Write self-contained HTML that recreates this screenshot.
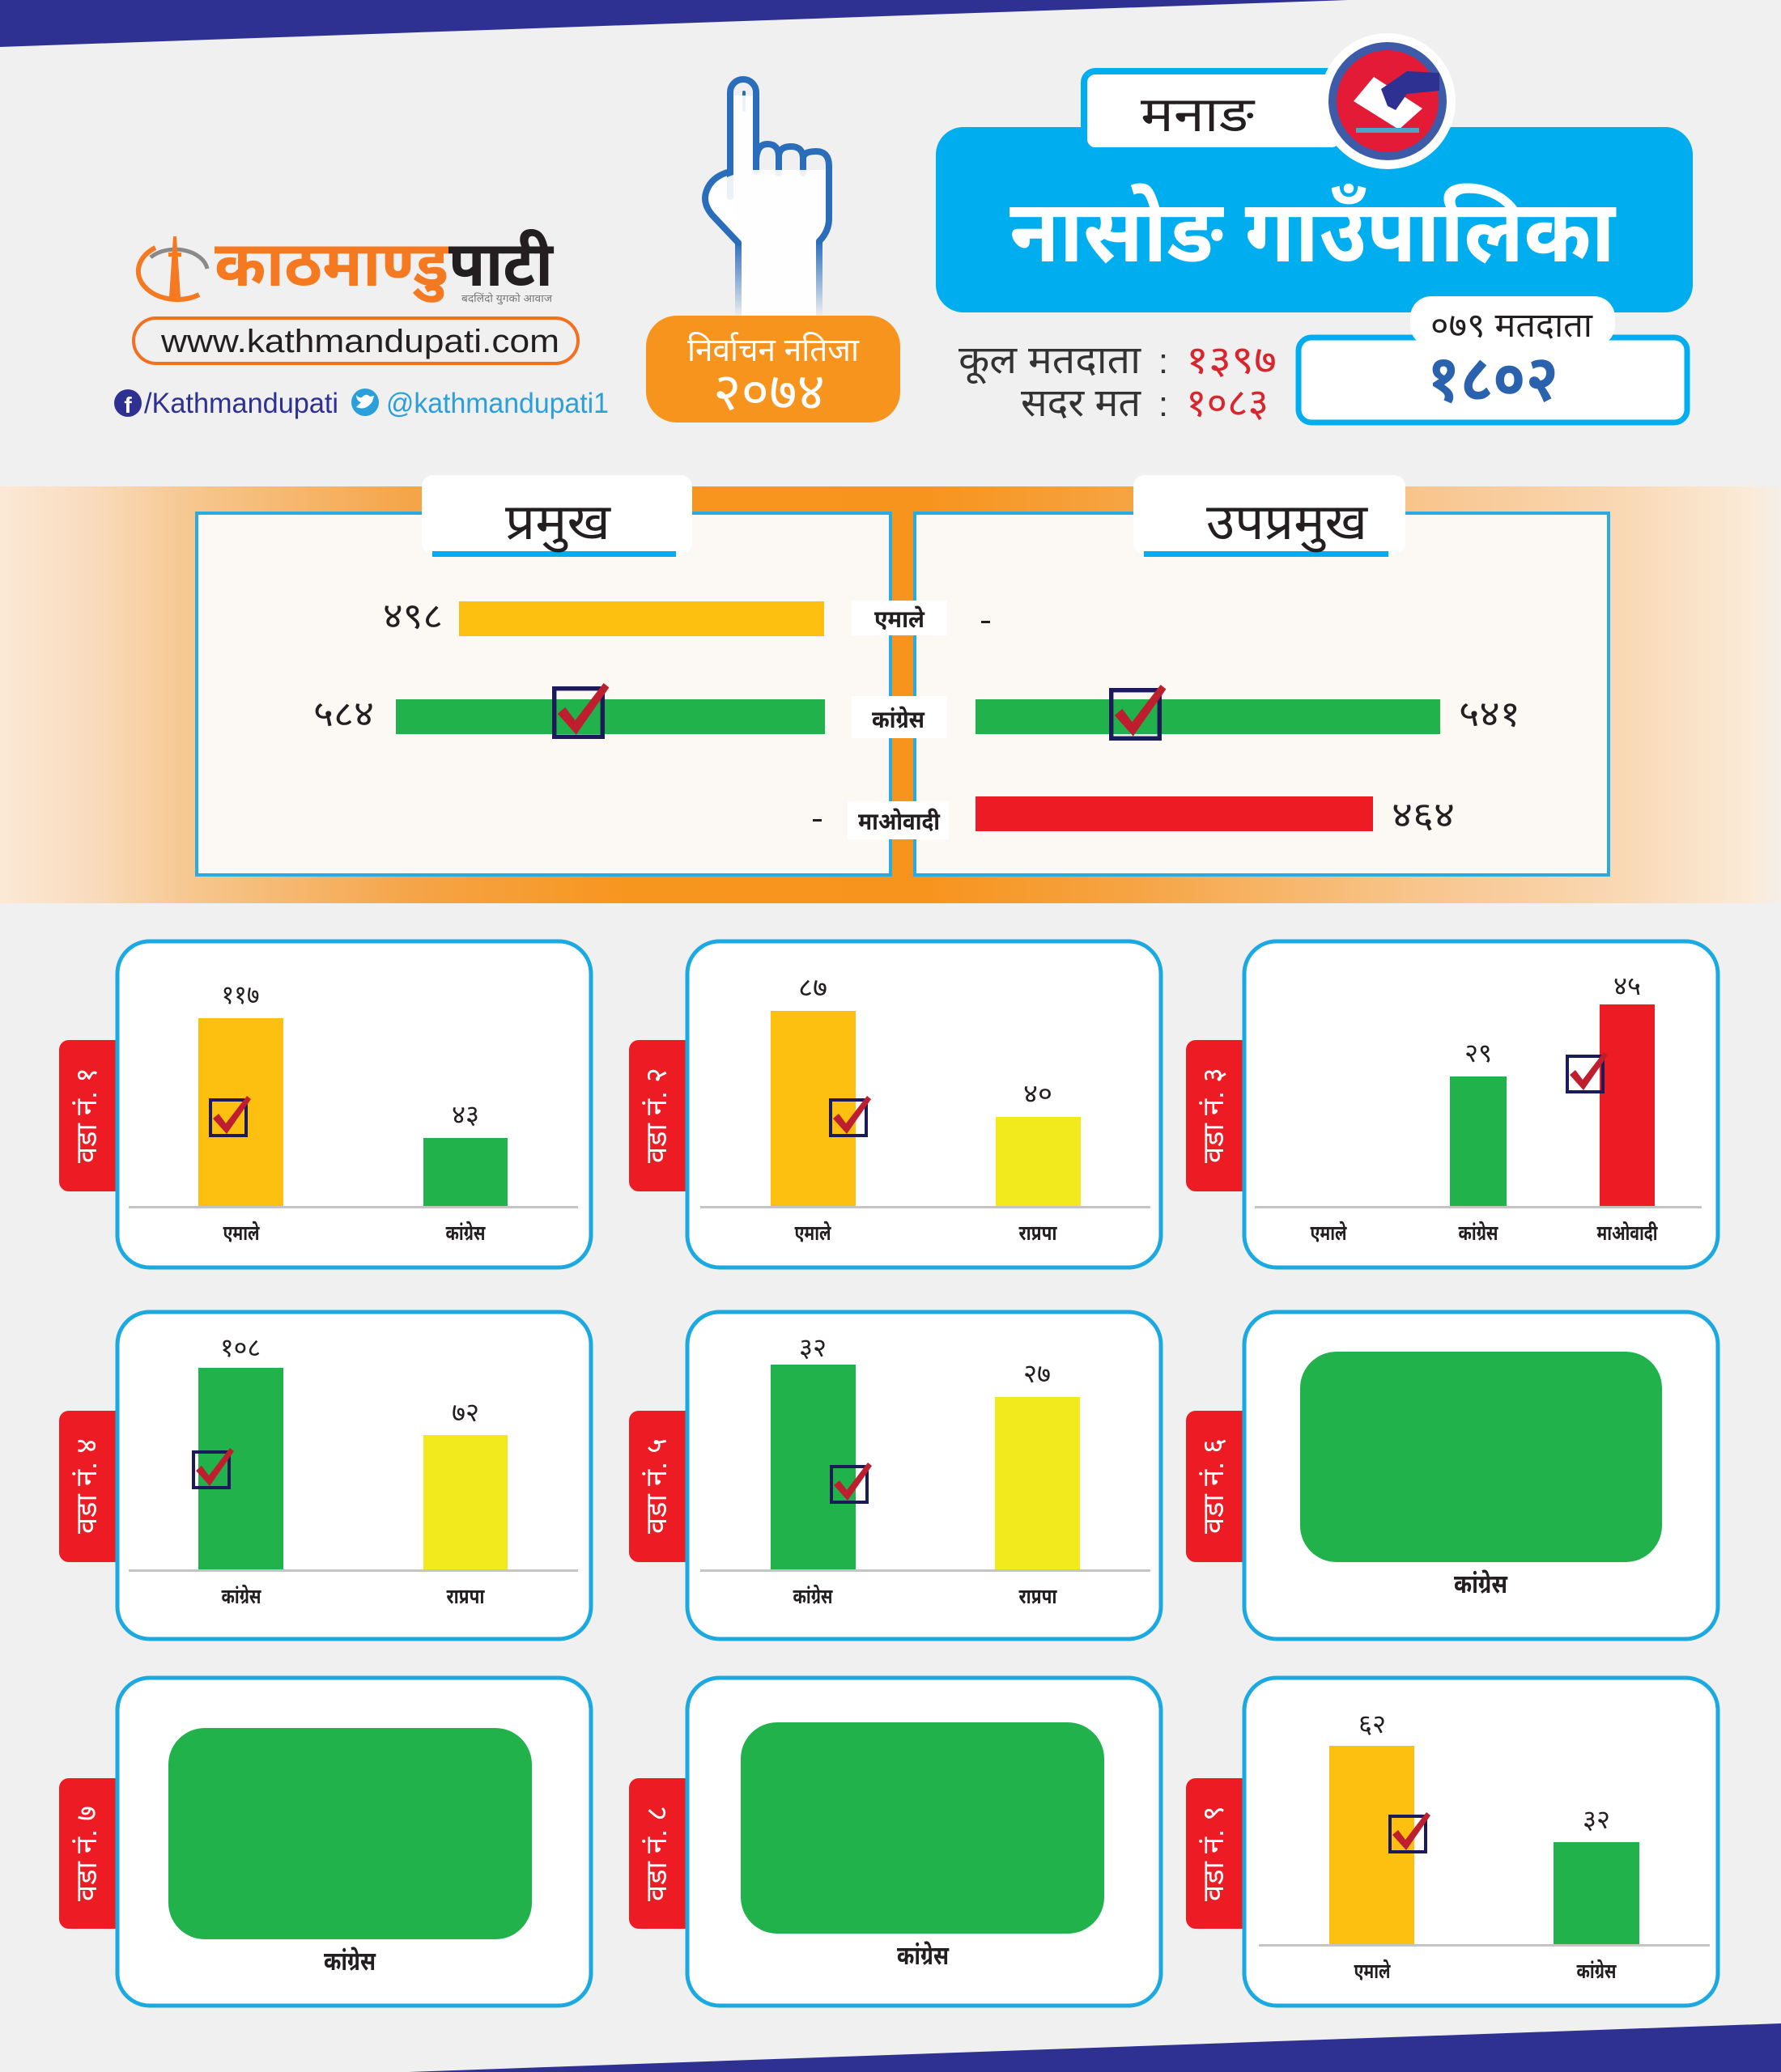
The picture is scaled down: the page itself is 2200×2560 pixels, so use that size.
<!DOCTYPE html>
<html><head><meta charset="utf-8"><style>
html,body{margin:0;padding:0;background:#f0f0f0;}
svg{display:block;}
.d{font-family:"Liberation Sans","Noto Sans Devanagari","Lohit Devanagari","Mangal","Noto Sans CJK SC",sans-serif;}
.l{font-family:"Liberation Sans",sans-serif;}
</style></head><body>
<svg width="2200" height="2560" viewBox="0 0 2200 2560" xmlns="http://www.w3.org/2000/svg">
<defs>
<linearGradient id="band" x1="0" y1="0" x2="2200" y2="0" gradientUnits="userSpaceOnUse">
<stop offset="0" stop-color="#fbe8d5"/><stop offset="0.05" stop-color="#f9dcbf"/><stop offset="0.11" stop-color="#f6c68d"/>
<stop offset="0.233" stop-color="#f5a447"/><stop offset="0.35" stop-color="#f7961f"/><stop offset="0.52" stop-color="#f7941d"/>
<stop offset="0.635" stop-color="#f6a443"/><stop offset="0.79" stop-color="#f8c48a"/><stop offset="0.91" stop-color="#f9d8b4"/>
<stop offset="0.985" stop-color="#fbebd9"/><stop offset="1" stop-color="#f4efe9"/>
</linearGradient>
<linearGradient id="wrist" x1="0" y1="298" x2="0" y2="392" gradientUnits="userSpaceOnUse">
<stop offset="0" stop-color="#2a6ebb"/><stop offset="1" stop-color="#2a6ebb" stop-opacity="0"/>
</linearGradient>
<g id="ck">
<rect x="2" y="2" width="44" height="44" fill="none" stroke="#1b1b5a" stroke-width="4"/>
<path d="M5,25 L12,19 L21,31 L47,-3 L52,1 L22,44 Z" fill="#be1e2d"/>
</g>
</defs>

<!-- background -->
<rect x="0" y="0" width="2200" height="2560" fill="#f0f0f0"/>
<polygon points="0,0 1665,0 0,58" fill="#2e3192"/>
<polygon points="505,2560 2200,2500 2200,2560" fill="#2e3192"/>

<!-- logo -->
<g>
<path d="M186 318 A40 28 0 0 1 256 332" fill="none" stroke="#8a8a8a" stroke-width="5"/>
<path d="M192 306 A44 32 0 0 0 246 364" fill="none" stroke="#f47920" stroke-width="6"/>
<polygon points="214,292 218,292 223,367 209,367" fill="#f47920"/>
<rect x="208" y="312" width="16" height="5" fill="#f47920"/>
</g>
<text class="d" x="265" y="353" font-size="78" font-weight="bold" fill="#f47920" textLength="289" lengthAdjust="spacingAndGlyphs">काठमाण्डु</text>
<text class="d" x="554" y="353" font-size="78" font-weight="bold" fill="#231f20" textLength="129" lengthAdjust="spacingAndGlyphs">पाटी</text>
<text class="d" x="570" y="373" font-size="13" fill="#777" textLength="112" lengthAdjust="spacingAndGlyphs">बदलिंदो युगको आवाज</text>

<rect x="165" y="393" width="549" height="56" rx="28" fill="none" stroke="#f37021" stroke-width="4"/>
<text class="l" x="199" y="435" font-size="40" fill="#231f20" textLength="492" lengthAdjust="spacingAndGlyphs">www.kathmandupati.com</text>

<circle cx="158" cy="498" r="17" fill="#2e3192"/>
<text class="l" x="158" y="510" font-size="28" font-weight="bold" fill="#fff" text-anchor="middle">f</text>
<text class="l" x="178" y="510" font-size="35" fill="#2e3192" textLength="240" lengthAdjust="spacingAndGlyphs">/Kathmandupati</text>
<circle cx="451" cy="497" r="17" fill="#2b9fd9"/>
<path d="M440 503 Q452 508 460 496 L462 489 L457 490 Q452 485 447 491 Q443 492 440 488 Q440 495 446 497 Q443 500 440 503 Z" fill="#fff"/>
<text class="l" x="477" y="510" font-size="35" fill="#2b9fd9" textLength="275" lengthAdjust="spacingAndGlyphs">@kathmandupati1</text>

<!-- hand -->
<g fill="none" stroke="#2a6ebb" stroke-width="8" stroke-linecap="round" stroke-linejoin="round">
<path d="M912 300 L880 266 Q868 252 872 238 Q878 218 902 212" fill="#fff"/>
<path d="M902 243 L902 114 A16 16 0 0 1 934 114 L934 200 Q934 178 948 178 Q962 178 962 194 Q962 181 977 181 Q992 181 992 196 Q992 187 1008 187 Q1024 187 1024 205 L1024 270 Q1024 286 1012 298"/>
<path d="M934 196 L934 212 M962 194 L962 214 M992 196 L992 214"/>
<path d="M919 114 L919 136" stroke-width="4"/>
</g>
<path d="M906 118 L930 118 L930 210 L1020 210 L1020 270 Q1020 284 1008 296 L1008 392 L916 392 L916 298 L884 264 Q874 252 877 240 Q882 224 906 216 Z" fill="#fff" opacity="0.9"/>
<path d="M912 300 L912 392 M1012 298 L1012 392" stroke="url(#wrist)" stroke-width="8" fill="none"/>

<!-- orange box -->
<rect x="798" y="390" width="314" height="132" rx="38" fill="#f7941d"/>
<text class="d" x="955" y="446" font-size="40" fill="#fff" text-anchor="middle" textLength="212" lengthAdjust="spacingAndGlyphs">निर्वाचन नतिजा</text>
<text class="d" x="950" y="506" font-size="64" fill="#fff" text-anchor="middle" textLength="138" lengthAdjust="spacingAndGlyphs">२०७४</text>

<!-- title block -->
<rect x="1156" y="157" width="935" height="229" rx="34" fill="#00aeef"/>
<rect x="1339" y="88" width="320" height="98" rx="14" fill="#fff" stroke="#00aeef" stroke-width="8"/>
<text class="d" x="1479" y="162" font-size="60" fill="#231f20" text-anchor="middle" textLength="140" lengthAdjust="spacingAndGlyphs">मनाङ</text>
<circle cx="1714" cy="125" r="84" fill="#fff"/>
<circle cx="1714" cy="125" r="73" fill="#3d5ba9"/>
<circle cx="1714" cy="125" r="63" fill="#e31b37"/>
<polygon points="1672,125 1697,95 1757,134 1728,160" fill="#fff"/>
<polygon points="1706,110 1738,88 1778,90 1778,112 1738,116 1724,136 1714,131" fill="#2e3192"/>
<rect x="1675" y="158" width="78" height="6" fill="#4fa3c7"/>
<text class="d" x="1247" y="323" font-size="108" font-weight="bold" fill="#fff" textLength="748" lengthAdjust="spacingAndGlyphs">नासोङ गाउँपालिका</text>

<!-- voter counts -->
<text class="d" x="1184" y="461" font-size="48" fill="#333" textLength="225" lengthAdjust="spacingAndGlyphs">कूल मतदाता</text>
<text class="l" x="1437" y="461" font-size="44" fill="#333" text-anchor="middle">:</text>
<text class="d" x="1465" y="461" font-size="48" fill="#d7262e" textLength="112" lengthAdjust="spacingAndGlyphs">१३९७</text>
<text class="d" x="1261" y="514" font-size="48" fill="#333" textLength="148" lengthAdjust="spacingAndGlyphs">सदर मत</text>
<text class="l" x="1437" y="514" font-size="44" fill="#333" text-anchor="middle">:</text>
<text class="d" x="1465" y="514" font-size="48" fill="#d7262e" textLength="102" lengthAdjust="spacingAndGlyphs">१०८३</text>

<rect x="1604" y="417" width="480" height="105" rx="16" fill="#fff" stroke="#00aeef" stroke-width="7"/>
<rect x="1742" y="366" width="253" height="62" rx="26" fill="#fff"/>
<text class="d" x="1767" y="416" font-size="42" fill="#231f20" textLength="200" lengthAdjust="spacingAndGlyphs">०७९ मतदाता</text>
<text class="d" x="1763" y="495" font-size="80" font-weight="bold" fill="#2b62ad" textLength="162" lengthAdjust="spacingAndGlyphs">१८०२</text>

<!-- orange band -->
<rect x="0" y="601" width="2200" height="515" fill="url(#band)"/>
<rect x="243" y="634" width="857" height="447" fill="#fcf8f3" stroke="#29abe2" stroke-width="4"/>
<rect x="1130" y="634" width="857" height="447" fill="#fcf8f3" stroke="#29abe2" stroke-width="4"/>
<rect x="1102" y="601" width="26" height="515" fill="#f7941d"/>
<rect x="243" y="1079" width="857" height="4" fill="#29abe2"/>
<rect x="1130" y="1079" width="857" height="4" fill="#29abe2"/>

<rect x="521" y="587" width="334" height="98" rx="14" fill="#fff"/>
<rect x="534" y="681" width="301" height="7" fill="#00aeef"/>
<text class="d" x="624" y="666" font-size="62" fill="#231f20" textLength="130" lengthAdjust="spacingAndGlyphs">प्रमुख</text>
<rect x="1400" y="587" width="336" height="98" rx="14" fill="#fff"/>
<rect x="1413" y="681" width="302" height="7" fill="#00aeef"/>
<text class="d" x="1490" y="666" font-size="62" fill="#231f20" textLength="199" lengthAdjust="spacingAndGlyphs">उपप्रमुख</text>

<rect x="567" y="743" width="451" height="43" fill="#fdc010"/>
<rect x="489" y="864" width="530" height="43" fill="#21b24b"/>
<rect x="1205" y="864" width="574" height="43" fill="#21b24b"/>
<rect x="1205" y="984" width="491" height="43" fill="#ed1c24"/>

<text class="d" x="473" y="776" font-size="44" fill="#231f20" textLength="74" lengthAdjust="spacingAndGlyphs">४९८</text>
<text class="d" x="387" y="897" font-size="44" fill="#231f20" textLength="75" lengthAdjust="spacingAndGlyphs">५८४</text>
<text class="d" x="1802" y="897" font-size="44" fill="#231f20" textLength="76" lengthAdjust="spacingAndGlyphs">५४१</text>
<text class="d" x="1719" y="1022" font-size="44" fill="#231f20" textLength="78" lengthAdjust="spacingAndGlyphs">४६४</text>
<rect x="1004" y="1012" width="11" height="3" fill="#231f20"/>
<rect x="1212" y="767" width="11" height="3" fill="#231f20"/>

<rect x="1052" y="742" width="118" height="43" fill="#fff"/>
<rect x="1052" y="860" width="118" height="52" fill="#fff"/>
<rect x="1047" y="990" width="125" height="47" fill="#fff"/>
<text class="d" x="1080" y="775" font-size="30" font-weight="bold" fill="#231f20" textLength="62" lengthAdjust="spacingAndGlyphs">एमाले</text>
<text class="d" x="1077" y="899" font-size="30" font-weight="bold" fill="#231f20" textLength="65" lengthAdjust="spacingAndGlyphs">कांग्रेस</text>
<text class="d" x="1060" y="1025" font-size="30" font-weight="bold" fill="#231f20" textLength="101" lengthAdjust="spacingAndGlyphs">माओवादी</text>

<use href="#ck" transform="translate(682,848) scale(1.354)"/>
<use href="#ck" transform="translate(1370,850) scale(1.354)"/>

<!-- ward tabs -->
<g fill="#ed1c24">
<rect x="73" y="1285" width="82" height="187" rx="12"/>
<rect x="777" y="1285" width="82" height="187" rx="12"/>
<rect x="1465" y="1285" width="82" height="187" rx="12"/>
<rect x="73" y="1743" width="82" height="187" rx="12"/>
<rect x="777" y="1743" width="82" height="187" rx="12"/>
<rect x="1465" y="1743" width="82" height="187" rx="12"/>
<rect x="73" y="2197" width="82" height="186" rx="12"/>
<rect x="777" y="2197" width="82" height="186" rx="12"/>
<rect x="1465" y="2197" width="82" height="186" rx="12"/>
</g>

<!-- ward panels -->
<g fill="#fff" stroke="#1ba9e1" stroke-width="5">
<rect x="145" y="1163" width="585" height="403" rx="40"/>
<rect x="849" y="1163" width="585" height="403" rx="40"/>
<rect x="1537" y="1163" width="585" height="403" rx="40"/>
<rect x="145" y="1621" width="585" height="404" rx="40"/>
<rect x="849" y="1621" width="585" height="404" rx="40"/>
<rect x="1537" y="1621" width="585" height="404" rx="40"/>
<rect x="145" y="2073" width="585" height="405" rx="40"/>
<rect x="849" y="2073" width="585" height="405" rx="40"/>
<rect x="1537" y="2073" width="585" height="405" rx="40"/>
</g>

<g class="d" font-size="36" fill="#fff" text-anchor="middle">
<text transform="translate(107,1378) rotate(-90)" dy="12" textLength="118" lengthAdjust="spacingAndGlyphs">वडा नं. १</text>
<text transform="translate(811,1378) rotate(-90)" dy="12" textLength="118" lengthAdjust="spacingAndGlyphs">वडा नं. २</text>
<text transform="translate(1499,1378) rotate(-90)" dy="12" textLength="118" lengthAdjust="spacingAndGlyphs">वडा नं. ३</text>
<text transform="translate(107,1836) rotate(-90)" dy="12" textLength="118" lengthAdjust="spacingAndGlyphs">वडा नं. ४</text>
<text transform="translate(811,1836) rotate(-90)" dy="12" textLength="118" lengthAdjust="spacingAndGlyphs">वडा नं. ५</text>
<text transform="translate(1499,1836) rotate(-90)" dy="12" textLength="118" lengthAdjust="spacingAndGlyphs">वडा नं. ६</text>
<text transform="translate(107,2290) rotate(-90)" dy="12" textLength="118" lengthAdjust="spacingAndGlyphs">वडा नं. ७</text>
<text transform="translate(811,2290) rotate(-90)" dy="12" textLength="118" lengthAdjust="spacingAndGlyphs">वडा नं. ८</text>
<text transform="translate(1499,2290) rotate(-90)" dy="12" textLength="118" lengthAdjust="spacingAndGlyphs">वडा नं. ९</text>
</g>

<!-- axes -->
<g fill="#c4c4c4">
<rect x="159" y="1490" width="555" height="3"/>
<rect x="865" y="1490" width="556" height="3"/>
<rect x="1550" y="1490" width="552" height="3"/>
<rect x="159" y="1939" width="555" height="3"/>
<rect x="865" y="1939" width="556" height="3"/>
<rect x="1555" y="2402" width="557" height="3"/>
</g>

<!-- bars -->
<rect x="245" y="1258" width="105" height="232" fill="#fdc010"/>
<rect x="523" y="1406" width="104" height="84" fill="#21b24b"/>
<rect x="952" y="1249" width="105" height="241" fill="#fdc010"/>
<rect x="1230" y="1380" width="105" height="110" fill="#f2ea1c"/>
<rect x="1791" y="1330" width="70" height="160" fill="#21b24b"/>
<rect x="1976" y="1241" width="68" height="249" fill="#ed1c24"/>
<rect x="245" y="1690" width="105" height="249" fill="#21b24b"/>
<rect x="523" y="1773" width="104" height="166" fill="#f2ea1c"/>
<rect x="952" y="1686" width="105" height="253" fill="#21b24b"/>
<rect x="1229" y="1726" width="105" height="213" fill="#f2ea1c"/>
<rect x="1606" y="1670" width="447" height="260" rx="45" fill="#21b24b"/>
<rect x="208" y="2135" width="449" height="261" rx="45" fill="#21b24b"/>
<rect x="915" y="2128" width="449" height="261" rx="45" fill="#21b24b"/>
<rect x="1642" y="2157" width="105" height="245" fill="#fdc010"/>
<rect x="1919" y="2276" width="106" height="126" fill="#21b24b"/>

<!-- checkmarks -->
<use href="#ck" transform="translate(258,1357)"/>
<use href="#ck" transform="translate(1024,1357)"/>
<use href="#ck" transform="translate(1934,1303)"/>
<use href="#ck" transform="translate(237,1792)"/>
<use href="#ck" transform="translate(1025,1810)"/>
<use href="#ck" transform="translate(1715,2242)"/>

<!-- value labels -->
<g class="d" font-size="32" fill="#231f20" text-anchor="middle">
<text x="297" y="1240" textLength="47" lengthAdjust="spacingAndGlyphs">११७</text>
<text x="575" y="1388" textLength="34" lengthAdjust="spacingAndGlyphs">४३</text>
<text x="1004" y="1231" textLength="36" lengthAdjust="spacingAndGlyphs">८७</text>
<text x="1282" y="1362" textLength="36" lengthAdjust="spacingAndGlyphs">४०</text>
<text x="1826" y="1312" textLength="34" lengthAdjust="spacingAndGlyphs">२९</text>
<text x="2010" y="1229" textLength="34" lengthAdjust="spacingAndGlyphs">४५</text>
<text x="297" y="1676" textLength="50" lengthAdjust="spacingAndGlyphs">१०८</text>
<text x="575" y="1756" textLength="34" lengthAdjust="spacingAndGlyphs">७२</text>
<text x="1004" y="1676" textLength="34" lengthAdjust="spacingAndGlyphs">३२</text>
<text x="1281" y="1708" textLength="34" lengthAdjust="spacingAndGlyphs">२७</text>
<text x="1695" y="2141" textLength="34" lengthAdjust="spacingAndGlyphs">६२</text>
<text x="1972" y="2259" textLength="34" lengthAdjust="spacingAndGlyphs">३२</text>
</g>

<!-- party labels -->
<g class="d" font-size="26" font-weight="bold" fill="#231f20" text-anchor="middle">
<text x="298" y="1532" textLength="45" lengthAdjust="spacingAndGlyphs">एमाले</text>
<text x="575" y="1532" textLength="49" lengthAdjust="spacingAndGlyphs">कांग्रेस</text>
<text x="1004" y="1532" textLength="45" lengthAdjust="spacingAndGlyphs">एमाले</text>
<text x="1282" y="1532" textLength="47" lengthAdjust="spacingAndGlyphs">राप्रपा</text>
<text x="1641" y="1532" textLength="45" lengthAdjust="spacingAndGlyphs">एमाले</text>
<text x="1826" y="1532" textLength="49" lengthAdjust="spacingAndGlyphs">कांग्रेस</text>
<text x="2010" y="1532" textLength="75" lengthAdjust="spacingAndGlyphs">माओवादी</text>
<text x="298" y="1981" textLength="49" lengthAdjust="spacingAndGlyphs">कांग्रेस</text>
<text x="575" y="1981" textLength="47" lengthAdjust="spacingAndGlyphs">राप्रपा</text>
<text x="1004" y="1981" textLength="49" lengthAdjust="spacingAndGlyphs">कांग्रेस</text>
<text x="1282" y="1981" textLength="47" lengthAdjust="spacingAndGlyphs">राप्रपा</text>
<text x="1695" y="2444" textLength="45" lengthAdjust="spacingAndGlyphs">एमाले</text>
<text x="1972" y="2444" textLength="49" lengthAdjust="spacingAndGlyphs">कांग्रेस</text>
</g>
<g class="d" font-size="32" font-weight="bold" fill="#231f20" text-anchor="middle">
<text x="1829" y="1968" textLength="66" lengthAdjust="spacingAndGlyphs">कांग्रेस</text>
<text x="432" y="2434" textLength="64" lengthAdjust="spacingAndGlyphs">कांग्रेस</text>
<text x="1140" y="2427" textLength="64" lengthAdjust="spacingAndGlyphs">कांग्रेस</text>
</g>
</svg>
</body></html>
